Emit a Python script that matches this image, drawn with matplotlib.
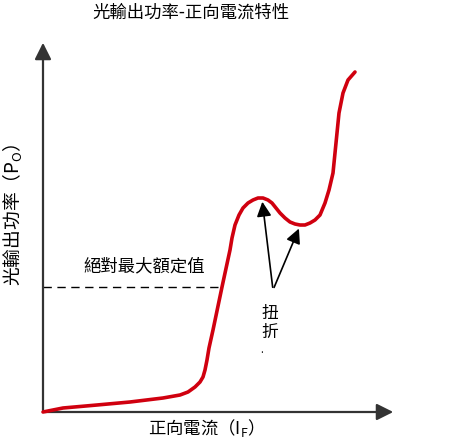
import matplotlib
matplotlib.use("Agg")
import matplotlib.pyplot as plt

plt.rcParams['font.family'] = ['Noto Sans CJK TC', 'DejaVu Sans']

# curve (pixel coords, y down)
curve_x = [43, 63, 97, 130, 163, 180, 188, 195, 200, 203, 205, 207, 209, 213, 222, 230, 232,
           235, 239, 243, 248, 253, 258, 263, 268, 272, 276, 280, 285, 290, 295, 300, 305,
           310, 315, 320, 325, 329, 333, 335, 337, 339, 343, 348, 355]
curve_y = [412, 408, 405, 402, 398, 395, 392, 387, 382, 377, 370, 360, 348, 330, 287, 250, 238,
           225, 215, 208, 203, 200, 198, 198, 200, 203, 208, 213, 218, 222, 224, 225, 225,
           223, 220, 215, 203, 190, 173, 153, 133, 113, 93, 80, 72]

title = "光輸出功率-正向電流特性"
ylabel = "光輸出功率（$\\mathregular{P_O}$）"
xlabel = "正向電流（$\\mathregular{I_F}$）"
limit_label = "絕對最大額定值"
kink_label = "扭\n折"

fig = plt.figure(figsize=(4.5, 4.46), dpi=100)
ax = fig.add_axes([0, 0, 1, 1])
ax.set_xlim(0, 450)
ax.set_ylim(446, 0)
ax.axis("off")

# axes with arrows
ax.annotate("", xy=(43, 40), xytext=(43, 413),
            arrowprops=dict(arrowstyle="-|>", color="#333333", lw=1.6, mutation_scale=25))
ax.annotate("", xy=(396, 412), xytext=(42, 412),
            arrowprops=dict(arrowstyle="-|>", color="#333333", lw=1.6, mutation_scale=25))

ax.plot(curve_x, curve_y, color="#d0000f", lw=2.6, solid_capstyle="round",
        solid_joinstyle="round", zorder=3)

# absolute max rating
ax.plot([43, 222], [287, 287], color="black", lw=1, dashes=(6, 4))
ax.text(144, 266, limit_label, fontsize=12.5, ha="center", va="center")

# kink arrows
for tip in [(262, 199), (300, 226)]:
    ax.annotate("", xy=tip, xytext=(273, 290),
                arrowprops=dict(arrowstyle="-|>", color="black", lw=1.2, mutation_scale=22))
ax.text(270, 323, kink_label, fontsize=12, ha="center", va="center", linespacing=1.2)
ax.text(262, 350, ".", fontsize=7, ha="center", va="center")

ax.text(191, 13, title, fontsize=12.5, ha="center", va="center")
ax.text(201, 428, xlabel, fontsize=12.5, ha="center", va="center")
ax.text(13, 215, ylabel, fontsize=13.5, ha="center", va="center", rotation=90)

plt.savefig("out.png", dpi=100)
